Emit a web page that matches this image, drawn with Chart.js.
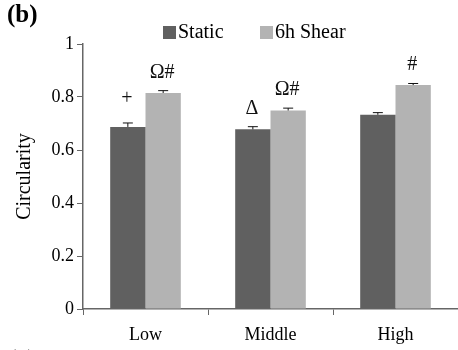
<!DOCTYPE html>
<html>
<head>
<meta charset="utf-8">
<script src="https://cdn.jsdelivr.net/npm/chart.js@4/dist/chart.umd.min.js"></script>
<style>
  html, body { margin: 0; padding: 0; background: #fff; }
  #wrap { width: 458px; height: 350px; position: relative; }
</style>
</head>
<body>
<div id="wrap"><canvas id="chart"></canvas></div>
<script>
// data
const categories = ['Low', 'Middle', 'High'];
const seriesNames = ['Static', '6h Shear'];
const staticValues = [0.687, 0.678, 0.733];
const shearValues = [0.815, 0.749, 0.845];
const staticErrors = [0.015, 0.010, 0.008];
const shearErrors = [0.009, 0.009, 0.006];
const staticMarks = ['+', 'Δ', ''];
const shearMarks = ['Ω#', 'Ω#', '#'];
const yTicks = [0, 0.2, 0.4, 0.6, 0.8, 1];

const SERIF = '"Liberation Serif", "Times New Roman", serif';
const AXIS_COLOR = '#666';

const errorBars = {
    id: 'errorBars',
    afterDatasetsDraw(chart) {
        const ctx = chart.ctx;
        const y = chart.scales.y;
        ctx.save();
        chart.data.datasets.forEach((ds, i) => {
            const meta = chart.getDatasetMeta(i);
            meta.data.forEach((bar, j) => {
                const top = y.getPixelForValue(ds.data[j] + ds.errors[j]);
                ctx.strokeStyle = '#111';
                ctx.lineWidth = 1;
                ctx.beginPath();
                ctx.moveTo(bar.x, bar.y);
                ctx.lineTo(bar.x, top);
                ctx.moveTo(bar.x - 5, top);
                ctx.lineTo(bar.x + 5, top);
                ctx.stroke();
                const mark = ds.marks[j];
                if (mark) {
                    ctx.fillStyle = '#111';
                    ctx.font = '20px ' + SERIF;
                    ctx.textAlign = 'center';
                    ctx.textBaseline = 'alphabetic';
                    const lift = mark === '+' ? 19 : 13;
                    ctx.fillText(mark, bar.x - 1, top - lift);
                }
            });
        });
        ctx.restore();
    }
};

// legend + panel letters
const extras = {
    id: 'extras',
    afterDraw(chart) {
        const ctx = chart.ctx;
        ctx.save();
        ctx.fillStyle = '#000';
        ctx.font = 'bold 25px ' + SERIF;
        ctx.textBaseline = 'middle';
        ctx.textAlign = 'left';
        ctx.fillText('(b)', 7, 16);
        ctx.textBaseline = 'top';
        ctx.fillText('(c)', 8, 348);

        const legendX = [163, 260];
        ctx.font = '20px ' + SERIF;
        ctx.textBaseline = 'middle';
        chart.data.datasets.forEach((ds, i) => {
            ctx.fillStyle = ds.backgroundColor;
            ctx.fillRect(legendX[i], 26, 13, 13);
            ctx.fillStyle = '#000';
            ctx.fillText(ds.label, legendX[i] + 15, 32.5);
        });
        ctx.restore();
    }
};

new Chart(document.getElementById('chart'), {
    type: 'bar',
    data: {
        labels: categories,
        datasets: [
            {
                label: seriesNames[0],
                data: staticValues,
                errors: staticErrors,
                marks: staticMarks,
                backgroundColor: '#606060',
                categoryPercentage: 0.565,
                barPercentage: 1.0
            },
            {
                label: seriesNames[1],
                data: shearValues,
                errors: shearErrors,
                marks: shearMarks,
                backgroundColor: '#b3b3b3',
                categoryPercentage: 0.565,
                barPercentage: 1.0
            }
        ]
    },
    options: {
        responsive: true,
        maintainAspectRatio: false,
        animation: false,
        layout: { padding: { left: 13, right: 0, top: 44, bottom: 0 } },
        plugins: {
            legend: { display: false },
            tooltip: { enabled: false }
        },
        scales: {
            x: {
                grid: {
                    display: true,
                    offset: true,
                    drawOnChartArea: false,
                    drawTicks: true,
                    tickLength: 6,
                    color: AXIS_COLOR
                },
                border: { color: AXIS_COLOR, width: 1.5 },
                ticks: {
                    color: '#000',
                    padding: 9,
                    font: { family: SERIF, size: 18 }
                },
                afterFit(scale) { scale.height = 41; }
            },
            y: {
                min: 0,
                max: 1,
                afterBuildTicks(scale) {
                    scale.ticks = yTicks.map(v => ({ value: v }));
                },
                grid: {
                    display: true,
                    drawOnChartArea: false,
                    drawTicks: true,
                    tickLength: 6,
                    color: AXIS_COLOR
                },
                border: { color: AXIS_COLOR, width: 1.5 },
                ticks: {
                    color: '#000',
                    padding: 3,
                    font: { family: SERIF, size: 18 },
                    callback: v => String(v)
                },
                title: {
                    display: true,
                    text: 'Circularity',
                    color: '#000',
                    padding: 0,
                    font: { family: SERIF, size: 20 }
                },
                afterFit(scale) { scale.width = 70; }
            }
        }
    },
    plugins: [errorBars, extras]
});
</script>
</body>
</html>
